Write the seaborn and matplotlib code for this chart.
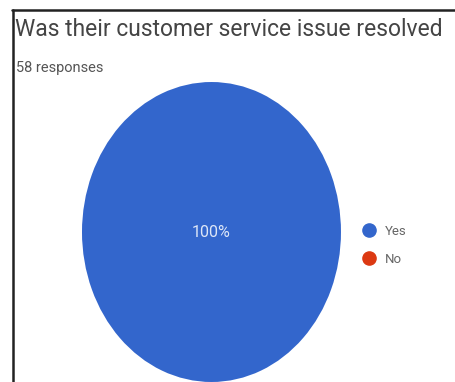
import matplotlib
matplotlib.use("Agg")
import matplotlib.pyplot as plt
from matplotlib.lines import Line2D
import seaborn as sns

# Data
labels = ["Yes", "No"]
shares = [100, 0]
colors = ["#3366cc", "#dc3912"]
title = "Was their customer service issue resolved"
subtitle = "58 responses"

sns.set_style("white")
plt.rcParams["font.family"] = ["Roboto", "DejaVu Sans"]

fig = plt.figure(figsize=(4.55, 3.82), dpi=100)

# pie axes, stretched vertically like the screenshot
ax = fig.add_axes([0.1802, 0.0, 0.5692, 0.7853])
wedges, _ = ax.pie(shares, colors=colors, startangle=90, counterclock=False,
                   radius=1.0, wedgeprops=dict(linewidth=0))
ax.set_aspect("auto")
ax.set_xlim(-1, 1)
ax.set_ylim(-1, 1)
ax.axis("off")
ax.text(0, 0.0, f"{shares[0]}%", color="#dde6f7", ha="center", va="center", fontsize=11.5)

# legend
handles = [Line2D([], [], marker="o", linestyle="", markersize=9.5,
                  markerfacecolor=c, markeredgecolor=c) for c in colors]
fig.legend(handles, labels, loc="center left", bbox_to_anchor=(0.755, 0.358),
           frameon=False, fontsize=9.5, handletextpad=0.25, labelspacing=1.1,
           labelcolor="#666666")

# titles
fig.text(15 / 455, 1 - 36 / 382, title, fontsize=16.5, color="#444444",
         ha="left", va="baseline")
fig.text(16 / 455, 1 - 72 / 382, subtitle, fontsize=10.5, color="#555555",
         ha="left", va="baseline")

# frame lines from the screenshot
fig.add_artist(Line2D([13 / 455, 13 / 455], [0, 1 - 10 / 382], color="#222222", lw=1.8))
fig.add_artist(Line2D([12 / 455, 1], [1 - 10 / 382, 1 - 10 / 382], color="#222222", lw=1.8))

fig.savefig("out.png", dpi=100)
